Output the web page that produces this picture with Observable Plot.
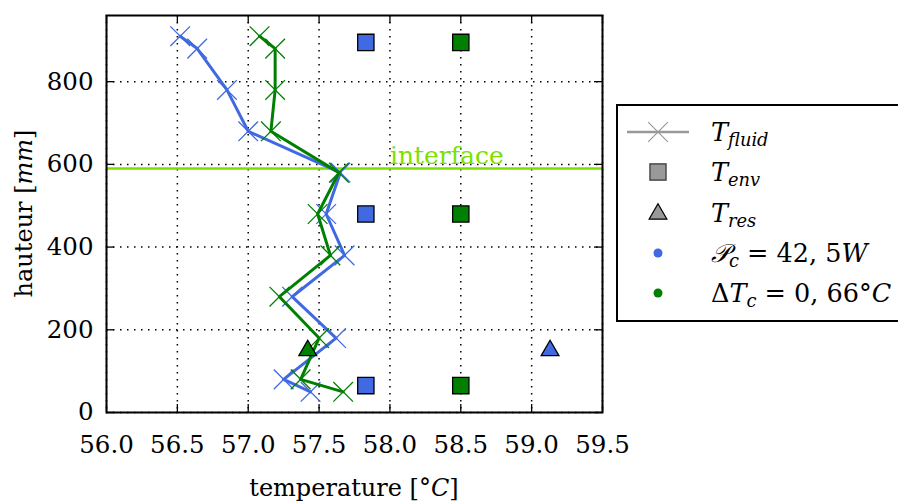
<!DOCTYPE html>
<html><head><meta charset="utf-8">
<script src="https://cdn.jsdelivr.net/npm/d3@7"></script>
<script src="https://cdn.jsdelivr.net/npm/@observablehq/plot@0.6"></script>
<style>
body{margin:0;background:#fff;}
#wrap{position:relative;width:898px;height:504px;overflow:hidden;font-family:"DejaVu Serif",serif;background:#fff;}
#legend{position:absolute;left:616px;top:104px;width:320px;height:214px;border:2px solid #000;background:#fff;}
.row{position:absolute;left:0;height:40px;width:320px;}
.row svg{position:absolute;left:0;top:0;}
.row .txt{position:absolute;left:93px;top:0;height:40px;line-height:40px;font-size:25.5px;white-space:nowrap;color:#000;}
.sub{font-size:0.7em;position:relative;top:0.3em;font-style:italic;}
</style></head><body><div id="wrap"></div>
<script>
// ---- data ----
const seriesNames = ["P_c = 42,5W", "ΔT_c = 0,66°C"];
const fluidHeights = [910, 880, 780, 680, 580, 480, 380, 280, 180, 80, 50];
const fluidBlue  = [56.52, 56.64, 56.85, 57.00, 57.65, 57.55, 57.68, 57.31, 57.62, 57.25, 57.44];
const fluidGreen = [57.08, 57.19, 57.19, 57.16, 57.64, 57.49, 57.58, 57.22, 57.50, 57.37, 57.67];
const envHeights = [895, 480, 65];
const envBlue  = [57.83, 57.83, 57.83];
const envGreen = [58.50, 58.50, 58.50];
const resHeights = [150];
const resBlue  = [59.13];
const resGreen = [57.42];
const interfaceHeight = [590];
const interfaceLabel = ["interface"];
const interfaceLabelX = [58.0];
const xTicks = [56.0, 56.5, 57.0, 57.5, 58.0, 58.5, 59.0, 59.5];
const yTicks = [0, 200, 400, 600, 800];
const xDomain = [56.0, 59.5];
const yDomain = [0, 960];

// ---- styles ----
const colors = ["#4169E1", "#008000"];
const lime = "#7CDF00";
const W = 898, H = 504, mL = 106, mR = 296, mT = 15, mB = 92;
const innerW = W - mL - mR, innerH = H - mT - mB;
const font = "DejaVu Serif";

const fluidSets = [fluidBlue, fluidGreen].map(xs => xs.map((x, i) => ({x, y: fluidHeights[i]})));
const envSets = [envBlue, envGreen].map(xs => xs.map((x, i) => ({x, y: envHeights[i]})));
const resSets = [resBlue, resGreen].map(xs => xs.map((x, i) => ({x, y: resHeights[i]})));
const interfaceRows = interfaceLabel.map((t, i) => ({t, x: interfaceLabelX[i], y: interfaceHeight[i]}));

const grid = {stroke: "#000", strokeOpacity: 1, strokeWidth: 1.5, strokeDasharray: "1.5,5.5"};
const marks = [
  Plot.gridX(xTicks, grid),
  Plot.gridY(yTicks, grid),
  Plot.ruleY(interfaceHeight, {stroke: lime, strokeWidth: 2.5}),
  Plot.text(interfaceRows, {x: "x", y: "y", text: "t", fill: lime, textAnchor: "start", lineAnchor: "bottom", dy: -5, fontSize: 25, fontFamily: font})
];
fluidSets.forEach((rows, k) => {
  marks.push(Plot.line(rows, {x: "x", y: "y", stroke: colors[k], strokeWidth: 3}));
  marks.push(Plot.dot(rows, {x: "x", y: "y", symbol: "times", r: 9, stroke: colors[k], strokeWidth: 1.3}));
});
envSets.forEach((rows, k) => {
  marks.push(Plot.dot(rows, {x: "x", y: "y", symbol: "square", r: 9.2, fill: colors[k], stroke: "#000", strokeWidth: 1.3}));
});
resSets.forEach((rows, k) => {
  marks.push(Plot.dot(rows, {x: "x", y: "y", symbol: "triangle", r: 6.6, fill: colors[k], stroke: "#000", strokeWidth: 1.3}));
});
const tk = {stroke: "#000", strokeWidth: 1.3};
marks.push(
  Plot.ruleX(xTicks, {...tk, insetTop: innerH - 8}),
  Plot.ruleX(xTicks, {...tk, insetBottom: innerH - 8}),
  Plot.ruleY(yTicks, {...tk, insetRight: innerW - 8}),
  Plot.ruleY(yTicks, {...tk, insetLeft: innerW - 8}),
  Plot.frame({stroke: "#000", strokeWidth: 2}),
  Plot.axisX(xTicks, {tickSize: 0, tickPadding: 23, tickFormat: d => d.toFixed(1), label: null, fontSize: 24.5, fontFamily: font}),
  Plot.axisY(yTicks, {tickSize: 0, tickPadding: 13, label: null, fontSize: 24.5, fontFamily: font})
);

const chart = Plot.plot({
  width: W, height: H,
  marginLeft: mL, marginRight: mR, marginTop: mT, marginBottom: mB,
  x: {domain: xDomain},
  y: {domain: yDomain},
  style: {fontFamily: font, fontSize: "24px", color: "#000", background: "#fff", overflow: "visible"},
  marks
});
const wrap = document.getElementById("wrap");
wrap.appendChild(chart);

// axis titles with italic parts
const svg = d3.select(chart);
const xl = svg.append("text").attr("x", mL + innerW / 2).attr("y", 496).attr("text-anchor", "middle")
  .attr("font-family", font).attr("font-size", 24).attr("fill", "#000");
xl.append("tspan").text("temperature [°");
xl.append("tspan").attr("font-style", "italic").text("C");
xl.append("tspan").text("]");
const yl = svg.append("text").attr("transform", `translate(32,${mT + innerH / 2}) rotate(-90)`).attr("text-anchor", "middle")
  .attr("font-family", font).attr("font-size", 24).attr("fill", "#000");
yl.append("tspan").text("hauteur [");
yl.append("tspan").attr("font-style", "italic").text("mm");
yl.append("tspan").text("]");

// legend
const legendItems = [
  {kind: "linex", html: '<i>T</i><span class="sub">fluid</span>'},
  {kind: "square", html: '<i>T</i><span class="sub">env</span>'},
  {kind: "triangle", html: '<i>T</i><span class="sub">res</span>'},
  {kind: "dot0", html: '<i>𝒫</i><span class="sub">c</span> = 42, 5<i>W</i>'},
  {kind: "dot1", html: 'Δ<i>T</i><span class="sub">c</span> = 0, 66°<i>C</i>'}
];
const legend = document.createElement("div");
legend.id = "legend";
wrap.appendChild(legend);
const rowCenters = [26, 66, 107, 147, 187];
legendItems.forEach((it, i) => {
  const row = document.createElement("div");
  row.className = "row";
  row.style.top = (rowCenters[i] - 20) + "px";
  const s = d3.create("svg").attr("width", 90).attr("height", 40);
  const cx = 40, cy = 20;
  if (it.kind === "linex") {
    s.append("line").attr("x1", 9).attr("x2", 71).attr("y1", cy).attr("y2", cy).attr("stroke", "#999").attr("stroke-width", 2.5);
    s.append("path").attr("transform", `translate(${cx},${cy})`).attr("d", d3.symbol(d3.symbolTimes, 254)()).attr("stroke", "#999").attr("stroke-width", 1.2).attr("fill", "none");
  } else if (it.kind === "square") {
    s.append("path").attr("transform", `translate(${cx},${cy})`).attr("d", d3.symbol(d3.symbolSquare, 260)()).attr("fill", "#999").attr("stroke", "#333").attr("stroke-width", 1.2);
  } else if (it.kind === "triangle") {
    s.append("path").attr("transform", `translate(${cx},${cy + 1})`).attr("d", d3.symbol(d3.symbolTriangle, 137)()).attr("fill", "#999").attr("stroke", "#000").attr("stroke-width", 1.2);
  } else {
    s.append("circle").attr("cx", cx).attr("cy", cy).attr("r", 4.5).attr("fill", colors[it.kind === "dot0" ? 0 : 1]);
  }
  row.appendChild(s.node());
  const t = document.createElement("div");
  t.className = "txt";
  t.innerHTML = it.html;
  row.appendChild(t);
  legend.appendChild(row);
});
</script></body></html>
